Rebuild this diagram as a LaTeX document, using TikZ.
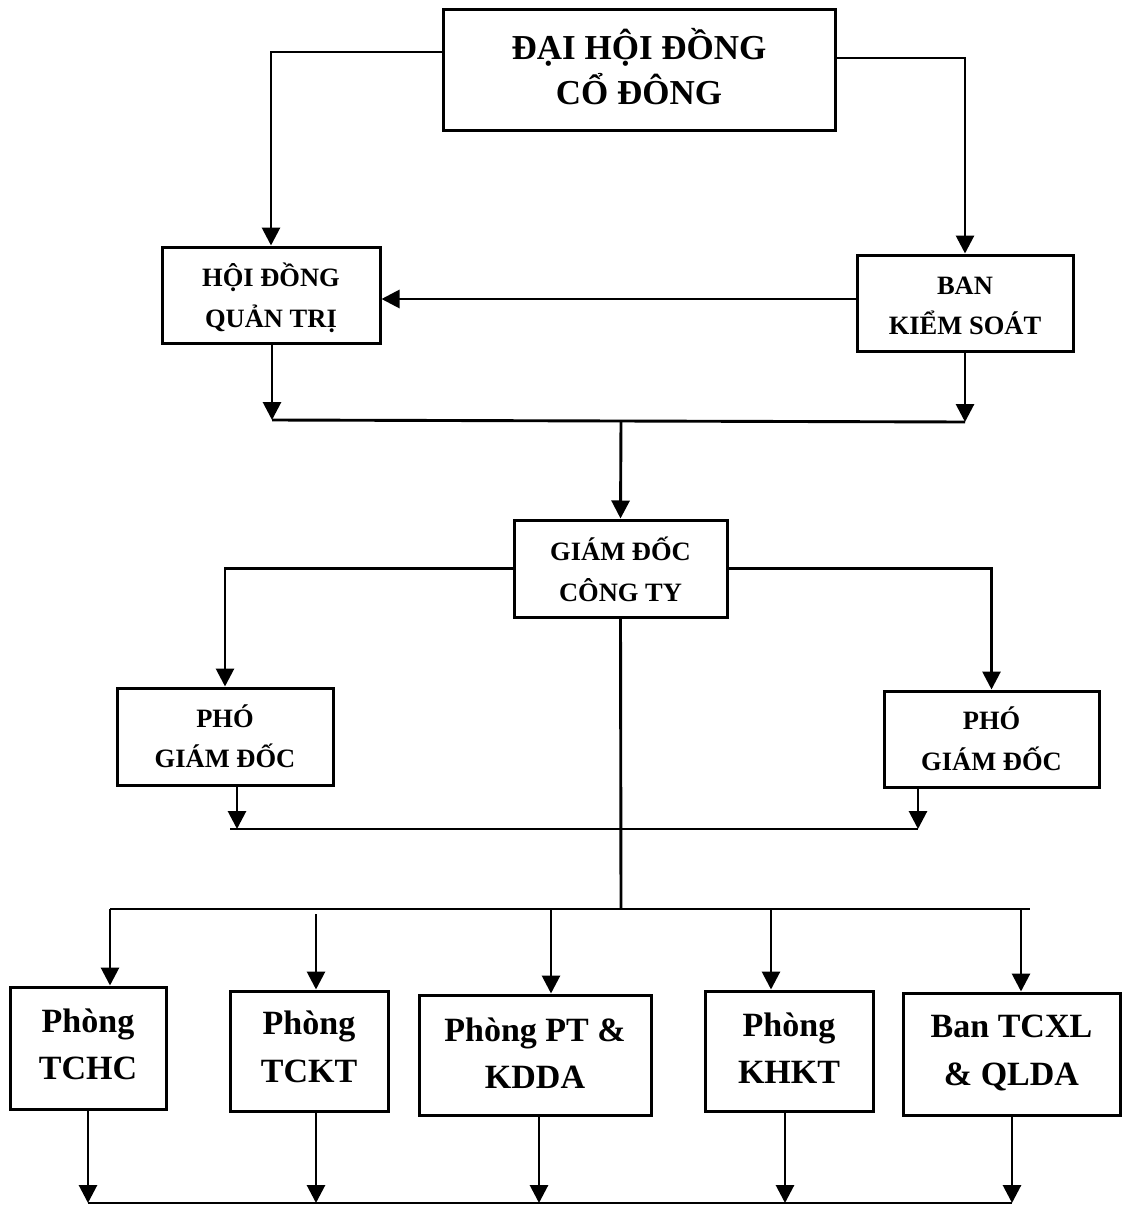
\documentclass[tikz,border=0pt]{standalone}
\usepackage{fontspec}
\setmainfont{Liberation Serif}
\usetikzlibrary{arrows.meta}
\tikzset{
  box/.style={draw, line width=3pt, inner sep=0pt},
  txt/.style={inner sep=0pt, align=center},
  topfont/.style={txt, font=\fontsize{35}{45}\selectfont\bfseries},
  midfont/.style={txt, font=\fontsize{26.5}{40.5}\selectfont\bfseries},
  lowfont/.style={txt, font=\fontsize{34}{47.5}\selectfont\bfseries},
  conn/.style={line width=2.9pt},
  arr/.style={line width=2.9pt, -{Triangle[length=18pt,width=18pt]}},
}
\begin{document}
\begin{tikzpicture}[x=1pt,y=-1pt]
\fill[white] (0,0) rectangle (1125,1209);
\useasboundingbox (0,0) rectangle (1125,1209);

% boxes
\node[box, minimum width=392pt, minimum height=121pt] (dhd) at (639,70.5) {};
\node[box, minimum width=218pt, minimum height=96pt] (hdqt) at (271,295) {};
\node[box, minimum width=216pt, minimum height=96pt] (bks) at (965,303) {};
\node[box, minimum width=213pt, minimum height=97pt] (gd) at (620.5,568.5) {};
\node[box, minimum width=216pt, minimum height=97pt] (pgdl) at (225,736.5) {};
\node[box, minimum width=215pt, minimum height=96pt] (pgdr) at (991.5,739) {};
\node[box, minimum width=156pt, minimum height=122pt] (tchc) at (88,1048) {};
\node[box, minimum width=158pt, minimum height=120pt] (tckt) at (309,1051) {};
\node[box, minimum width=232pt, minimum height=120pt] (ptk) at (535,1055) {};
\node[box, minimum width=168pt, minimum height=120pt] (khkt) at (789,1051) {};
\node[box, minimum width=217pt, minimum height=122pt] (tcxl) at (1011.5,1054) {};

% texts
\node[topfont] (dhd-t) at ([yshift=4pt]dhd) {ĐẠI HỘI ĐỒNG\\CỔ ĐÔNG};
\node[midfont] (hdqt-t) at ([yshift=-3pt]hdqt) {HỘI ĐỒNG\\QUẢN TRỊ};
\node[midfont] (bks-t) at ([yshift=-3pt]bks) {BAN\\KIỂM SOÁT};
\node[midfont] (gd-t) at ([yshift=-1pt]gd) {GIÁM ĐỐC\\CÔNG TY};
\node[midfont] (pgdl-t) at (pgdl) {PHÓ\\GIÁM ĐỐC};
\node[midfont] (pgdr-t) at (pgdr) {PHÓ\\GIÁM ĐỐC};
\node[lowfont] (tchc-t) at ([yshift=3.5pt]tchc) {Phòng\\TCHC};
\node[lowfont] (tckt-t) at ([yshift=4pt]tckt) {Phòng\\TCKT};
\node[lowfont] (ptk-t) at ([yshift=2pt]ptk) {Phòng PT \&\\KDDA};
\node[lowfont] (khkt-t) at ([yshift=3pt]khkt) {Phòng\\KHKT};
\node[lowfont] (tcxl-t) at ([yshift=1pt]tcxl) {Ban TCXL\\\& QLDA};

% top level
\draw[arr] ([yshift=18.5pt]dhd.west) -| (hdqt.north);
\draw[arr] ([yshift=12.5pt]dhd.east) -| (bks.north);
\draw[arr] ([yshift=4pt]bks.west) -- ([yshift=4pt]bks.west -| hdqt.east);

% merge to director
\coordinate (m1) at (272,420);
\coordinate (m2) at (965,422);
\coordinate (mc) at (621,421);
\draw[arr] (hdqt.south -| m1) -- (m1);
\draw[arr] (bks.south -| m2) -- (m2);
\draw[conn] (m1) -- (m2);
\draw[arr] (mc) -- (gd.north);

% director to deputies
\draw[arr] (gd.west) -| (pgdl.north);
\draw[arr] (gd.east) -| (pgdr.north);
\coordinate (p1) at (237,829);
\coordinate (p1a) at (230,829);
\coordinate (p2) at (918,829);
\draw[arr] (pgdl.south -| p1) -- (p1);
\draw[arr] (pgdr.south -| p2) -- (p2);
\draw[conn] (p1a) -- (p2);

% director to departments
\coordinate (b0) at (621,909);
\coordinate (bl) at (110,909);
\coordinate (br) at (1030,909);
\draw[conn] (gd.south) -- (b0);
\draw[conn] (bl) -- (br);
\coordinate (a1) at (110,909);
\coordinate (a2) at (316,914);
\coordinate (a3) at (551,909);
\coordinate (a4) at (771,909);
\coordinate (a5) at (1021,909);
\draw[arr] (a1) -- (a1 |- tchc.north);
\draw[arr] (a2) -- (a2 |- tckt.north);
\draw[arr] (a3) -- (a3 |- ptk.north);
\draw[arr] (a4) -- (a4 |- khkt.north);
\draw[arr] (a5) -- (a5 |- tcxl.north);

% departments to bottom line
\coordinate (c1) at (88,1203);
\coordinate (c2) at (316,1203);
\coordinate (c3) at (539,1203);
\coordinate (c4) at (785,1203);
\coordinate (c5) at (1012,1203);
\draw[arr] (c1 |- tchc.south) -- (c1);
\draw[arr] (c2 |- tckt.south) -- (c2);
\draw[arr] (c3 |- ptk.south) -- (c3);
\draw[arr] (c4 |- khkt.south) -- (c4);
\draw[arr] (c5 |- tcxl.south) -- (c5);
\draw[conn] (c1) -- (c5);
\end{tikzpicture}
\end{document}
